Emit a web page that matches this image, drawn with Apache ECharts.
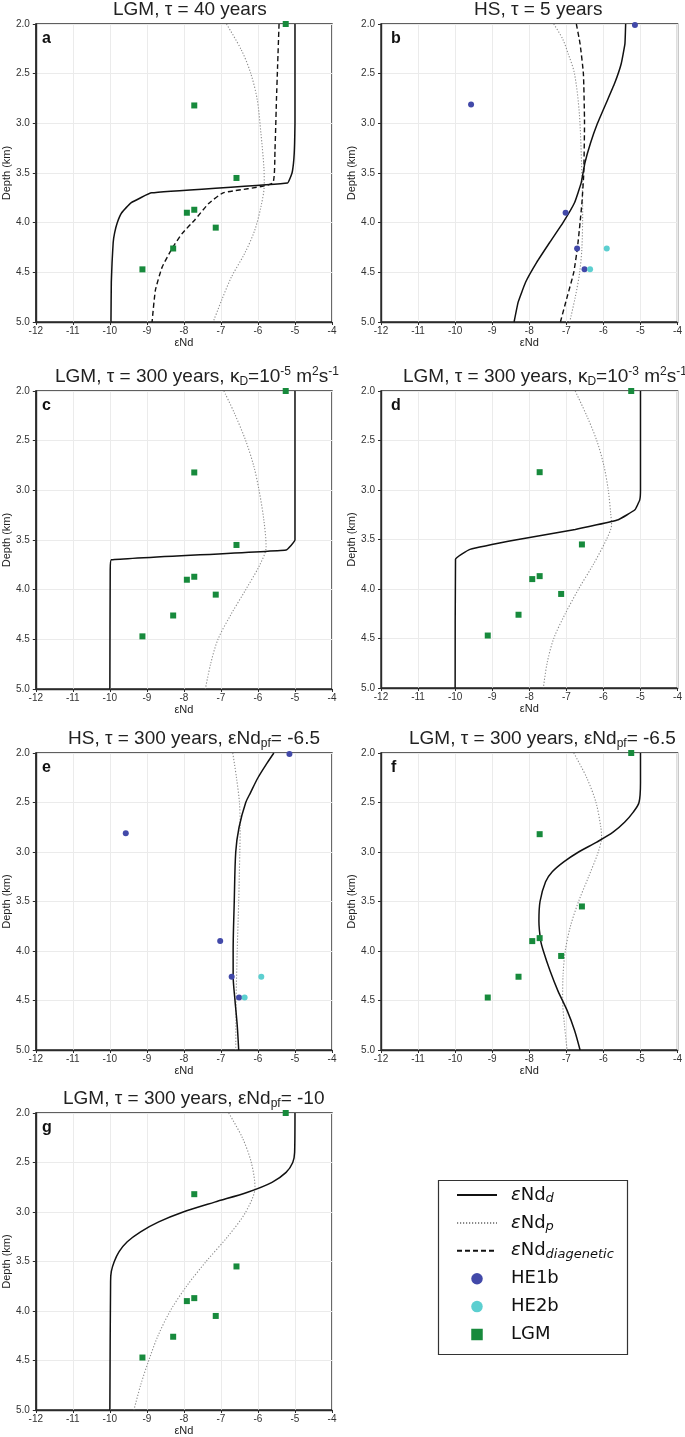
<!DOCTYPE html>
<html><head><meta charset="utf-8">
<script src="https://cdn.jsdelivr.net/npm/echarts@6/dist/echarts.min.js"></script>
<style>html,body{margin:0;padding:0;background:#fff}#c{width:685px;height:1437px}</style>
</head><body><div id="c"></div><script>
// ---------- data: [εNd, depth km] ----------
const LGM_pts  = [[-5.25,2.0],[-7.72,2.82],[-6.58,3.55],[-7.72,3.87],[-7.92,3.90],[-7.14,4.05],[-8.29,4.26],[-9.12,4.47]];
const HE1b_pts = [[-5.15,2.01],[-9.57,2.81],[-7.02,3.90],[-6.71,4.26],[-6.51,4.47]];
const HE2b_pts = [[-5.91,4.26],[-6.36,4.47]];

const A_d = [[-5.0,2.0],[-5.0,2.5],[-5.0,3.0],[-5.01,3.2],[-5.02,3.3],[-5.04,3.4],[-5.08,3.5],[-5.2,3.6],[-8.87,3.7],[-9.43,3.8],[-9.68,3.9],[-9.8,4.0],[-9.87,4.1],[-9.91,4.2],[-9.94,4.4],[-9.96,4.6],[-9.97,5.0]];
const A_p = [[-6.85,2.0],[-6.45,2.26],[-6.2,2.49],[-6.02,2.76],[-5.92,3.1],[-5.84,3.44],[-5.83,3.62],[-5.92,3.84],[-6.09,4.08],[-6.36,4.31],[-6.72,4.55],[-6.98,4.78],[-7.21,5.0]];
const A_diag = [[-5.43,2.0],[-5.47,2.43],[-5.5,2.76],[-5.54,3.27],[-5.6,3.6],[-6.94,3.7],[-7.34,3.81],[-7.7,3.97],[-8.05,4.11],[-8.32,4.26],[-8.59,4.45],[-8.77,4.68],[-8.86,5.0]];

const B_d = [[-5.4,2.0],[-5.42,2.2],[-5.52,2.4],[-5.7,2.6],[-5.93,2.8],[-6.16,3.0],[-6.35,3.2],[-6.5,3.4],[-6.6,3.6],[-6.78,3.8],[-7.09,4.0],[-7.45,4.2],[-7.8,4.4],[-8.1,4.6],[-8.3,4.8],[-8.41,5.0]];
const B_p = [[-7.34,2.0],[-7.1,2.15],[-6.95,2.3],[-6.78,2.5],[-6.65,2.9],[-6.59,3.4],[-6.56,3.9],[-6.58,4.25],[-6.64,4.5],[-6.76,4.75],[-6.91,5.0]];
const B_diag = [[-6.73,2.0],[-6.63,2.2],[-6.54,2.5],[-6.51,3.0],[-6.53,3.5],[-6.58,3.8],[-6.63,4.0],[-6.7,4.25],[-6.8,4.5],[-6.98,4.75],[-7.16,5.0]];

const C_d = [[-5.0,2.0],[-5.0,3.5],[-5.24,3.6],[-9.96,3.7],[-9.99,3.8],[-10.0,5.0]];
const C_p = [[-6.92,2.0],[-6.64,2.22],[-6.33,2.5],[-6.11,2.76],[-5.97,3.0],[-5.84,3.3],[-5.78,3.57],[-5.95,3.75],[-6.33,4.0],[-6.73,4.25],[-7.08,4.5],[-7.28,4.75],[-7.42,5.0]];

const D_d = [[-5.0,2.0],[-5.0,3.0],[-5.02,3.1],[-5.15,3.2],[-5.6,3.3],[-6.76,3.4],[-8.3,3.5],[-9.6,3.6],[-9.99,3.7],[-10.0,5.0]];
const D_p = [[-6.76,2.0],[-6.45,2.25],[-6.18,2.5],[-5.99,2.75],[-5.87,3.0],[-5.8,3.25],[-5.78,3.35],[-5.92,3.5],[-6.27,3.75],[-6.67,4.0],[-7.03,4.25],[-7.34,4.5],[-7.52,4.75],[-7.62,5.0]];

const E_d = [[-5.57,2.0],[-5.75,2.1],[-6.0,2.25],[-6.2,2.4],[-6.33,2.5],[-6.51,2.75],[-6.6,3.0],[-6.64,3.5],[-6.67,4.0],[-6.67,4.25],[-6.62,4.5],[-6.56,4.75],[-6.52,5.0]];
const E_p = [[-6.68,2.0],[-6.58,2.25],[-6.5,2.5],[-6.48,2.75],[-6.49,3.0],[-6.52,3.5],[-6.56,4.0],[-6.59,4.5],[-6.6,5.0]];

const F_d = [[-5.0,2.0],[-5.0,2.3],[-5.04,2.5],[-5.2,2.6],[-5.43,2.7],[-5.74,2.8],[-6.18,2.9],[-6.67,3.0],[-7.07,3.1],[-7.38,3.2],[-7.56,3.3],[-7.71,3.5],[-7.74,3.7],[-7.69,3.9],[-7.62,4.0],[-7.44,4.2],[-7.23,4.4],[-6.98,4.6],[-6.78,4.8],[-6.63,5.0]];
const F_p = [[-6.8,2.0],[-6.45,2.25],[-6.2,2.5],[-6.07,2.75],[-6.05,2.85],[-6.14,3.0],[-6.4,3.25],[-6.67,3.5],[-6.89,3.75],[-7.03,4.0],[-7.09,4.25],[-7.1,4.5],[-7.05,4.75],[-6.98,5.0]];

const G_d = [[-5.0,2.0],[-5.01,2.4],[-5.06,2.5],[-5.24,2.6],[-5.62,2.7],[-6.28,2.8],[-7.17,2.9],[-8.02,3.0],[-8.68,3.1],[-9.17,3.2],[-9.53,3.3],[-9.75,3.4],[-9.88,3.5],[-9.96,3.6],[-9.98,3.7],[-10.0,5.0]];
const G_p = [[-6.79,2.0],[-6.42,2.25],[-6.18,2.5],[-6.08,2.75],[-6.33,3.0],[-6.82,3.25],[-7.4,3.5],[-7.93,3.75],[-8.37,4.0],[-8.7,4.25],[-8.95,4.5],[-9.17,4.75],[-9.35,5.0]];

const panelTitles = [
  'LGM, τ = 40 years',
  'HS, τ = 5 years',
  'LGM, τ = 300 years, κ{sub|D}=10{sup|-5} m{sup|2}s{sup|-1}',
  'LGM, τ = 300 years, κ{sub|D}=10{sup|-3} m{sup|2}s{sup|-1}',
  'HS, τ = 300 years, εNd{sub|pf}= -6.5',
  'LGM, τ = 300 years, εNd{sub|pf}= -6.5',
  'LGM, τ = 300 years, εNd{sub|pf}= -10'
];
const panelLetters = ['a','b','c','d','e','f','g'];
const xTicks = {min:-12, max:-4, step:1};
const yTicks = {min:2.0, max:5.0, step:0.5};

// ---------- layout ----------
const layout = [
  {left:32, top:24, width:300, height:298, tl:113},
  {left:381, top:24, width:299, height:298, tl:474},
  {left:32, top:391, width:300, height:298, tl:55},
  {left:381, top:391, width:299, height:297, tl:403},
  {left:32, top:753, width:300, height:297, tl:68},
  {left:381, top:753, width:299, height:297, tl:409},
  {left:32, top:1113, width:300, height:298, tl:63}
];
const panelData = [
  {d:A_d, p:A_p, diag:A_diag, obs:'LGM'},
  {d:B_d, p:B_p, diag:B_diag, obs:'HS'},
  {d:C_d, p:C_p, obs:'LGM'},
  {d:D_d, p:D_p, obs:'LGM'},
  {d:E_d, p:E_p, obs:'HS', sm:0.3},
  {d:F_d, p:F_p, obs:'LGM', sm:0.3},
  {d:G_d, p:G_p, obs:'LGM', sm:0.3}
];

const FONT = 'Liberation Sans';
const grids = [], xAxes = [], yAxes = [], series = [], titles = [];
layout.forEach((L, i) => {
  grids.push({left:L.left, top:L.top, width:L.width, height:L.height, show:true,
    borderColor:'#2b2b2b', borderWidth:1.4, backgroundColor:'rgba(0,0,0,0)', containLabel:false});
  xAxes.push({type:'value', gridIndex:i, min:xTicks.min, max:xTicks.max, interval:xTicks.step,
    name:'εNd', nameLocation:'middle', nameGap:15,
    nameTextStyle:{fontFamily:FONT, fontSize:11, color:'#222'},
    axisLine:{show:true, onZero:false, lineStyle:{color:'#2b2b2b', width:1.4}},
    axisTick:{show:true, length:3, lineStyle:{color:'#2b2b2b'}},
    axisLabel:{fontFamily:FONT, fontSize:10, color:'#333', margin:4},
    splitLine:{show:true, lineStyle:{color:'#ebebeb', width:1}}});
  yAxes.push({type:'value', gridIndex:i, inverse:true, min:yTicks.min, max:yTicks.max, interval:yTicks.step,
    name:'Depth (km)', nameLocation:'middle', nameGap:21,
    nameTextStyle:{fontFamily:FONT, fontSize:11, color:'#222'},
    axisLine:{show:true, onZero:false, lineStyle:{color:'#2b2b2b', width:1.4}},
    axisTick:{show:true, length:3, lineStyle:{color:'#2b2b2b'}},
    axisLabel:{fontFamily:FONT, fontSize:10, color:'#333', margin:6, formatter:v => v.toFixed(1)},
    splitLine:{show:true, lineStyle:{color:'#ebebeb', width:1}}});

  const P = panelData[i];
  series.push({name:'εNd_p', type:'line', xAxisIndex:i, yAxisIndex:i, data:P.p, symbol:'none',
    smooth:0.3, itemStyle:{color:'#8a8a8a'}, lineStyle:{color:'#8a8a8a', width:1.1, type:[1.2,1.8]}, z:2, silent:true});
  if (P.diag) series.push({name:'εNd_diag', type:'line', xAxisIndex:i, yAxisIndex:i, data:P.diag, symbol:'none',
    smooth:0.15, itemStyle:{color:'#111'}, lineStyle:{color:'#111', width:1.4, type:[5,3]}, z:3, silent:true});
  series.push({name:'εNd_d', type:'line', xAxisIndex:i, yAxisIndex:i, data:P.d, symbol:'none',
    smooth:P.sm || 0.1, itemStyle:{color:'#111'}, lineStyle:{color:'#111', width:1.5}, z:4, silent:true});
  if (P.obs === 'LGM') {
    series.push({name:'LGM', type:'scatter', xAxisIndex:i, yAxisIndex:i, data:LGM_pts, symbol:'rect',
      symbolSize:6, itemStyle:{color:'#178a3c', opacity:1}, z:5});
  } else {
    series.push({name:'HE1b', type:'scatter', xAxisIndex:i, yAxisIndex:i, data:HE1b_pts, symbol:'circle',
      symbolSize:6, itemStyle:{color:'#4249a9', opacity:1}, z:5});
    series.push({name:'HE2b', type:'scatter', xAxisIndex:i, yAxisIndex:i, data:HE2b_pts, symbol:'circle',
      symbolSize:6, itemStyle:{color:'#5ccfd0', opacity:1}, z:5});
  }
  titles.push({text:panelTitles[i], left:L.tl, top:L.top - 25.5, padding:0,
    textStyle:{fontFamily:FONT, fontSize:19, fontWeight:'normal', color:'#222', lineHeight:22,
      rich:{
        sub:{fontFamily:FONT, fontSize:12, color:'#222', verticalAlign:'bottom', lineHeight:14},
        sup:{fontFamily:FONT, fontSize:12, color:'#222', verticalAlign:'top', lineHeight:10}
      }}});
  titles.push({text:panelLetters[i], left:L.left + 10, top:L.top + 7, padding:0,
    textStyle:{fontFamily:FONT, fontSize:16, fontWeight:'bold', color:'#111', lineHeight:15}});
});

const hideSym = {color:'rgba(0,0,0,0)', opacity:0, borderWidth:0};
const legendItems = [
  {name:'εNd_d', itemStyle:hideSym},
  {name:'εNd_p', itemStyle:hideSym},
  {name:'εNd_diag', itemStyle:hideSym},
  {name:'HE1b'},
  {name:'HE2b'},
  {name:'LGM', icon:'path://M0,0L10,0L10,10L0,10Z'}
];
const legendLabels = {
  'εNd_d':'{eps|ε}Nd{sub|d}',
  'εNd_p':'{eps|ε}Nd{sub|p}',
  'εNd_diag':'{eps|ε}Nd{sub|diagenetic}',
  'HE1b':'HE1b','HE2b':'HE2b','LGM':'LGM'
};
const LF = 'DejaVu Sans';

const chart = echarts.init(document.getElementById('c'), null, {renderer:'canvas'});
chart.setOption({
  animation:false,
  backgroundColor:'#fff',
  title:titles,
  grid:grids, xAxis:xAxes, yAxis:yAxes, series:series,
  legend:{
    data:legendItems, orient:'vertical', left:456, top:1185, padding:0,
    itemWidth:40, itemHeight:11.5, itemGap:7.9, selectedMode:false, symbolKeepAspect:true,
    formatter:n => legendLabels[n],
    textStyle:{fontFamily:LF, fontSize:18, color:'#111', lineHeight:20, padding:[0,0,0,9],
      rich:{
        eps:{fontFamily:LF, fontSize:18, fontStyle:'italic', color:'#111', lineHeight:20},
        sub:{fontFamily:LF, fontSize:13, fontStyle:'italic', color:'#111', verticalAlign:'bottom', lineHeight:12}
      }}
  },
  graphic:[{type:'rect', left:436, top:1178, shape:{width:189, height:174},
    style:{fill:'none', stroke:'#333', lineWidth:1.2}, silent:true}]
});
</script></body></html>
